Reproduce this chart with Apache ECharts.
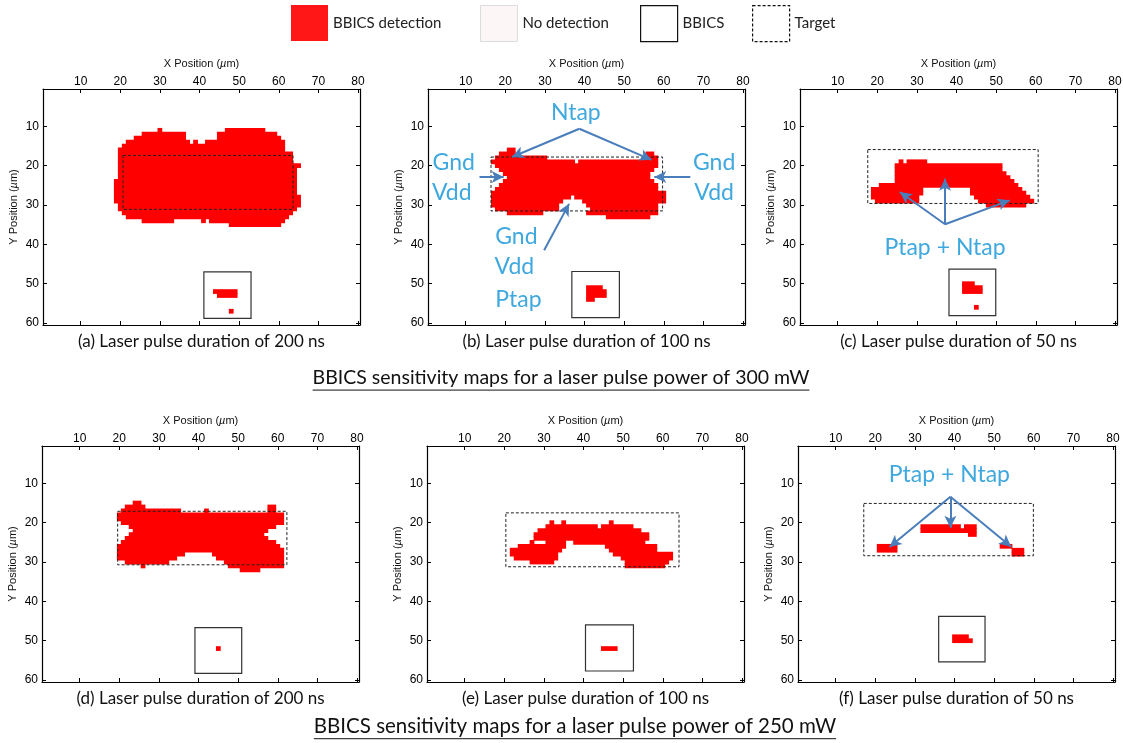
<!DOCTYPE html>
<html><head><meta charset="utf-8">
<script src="https://cdn.jsdelivr.net/npm/echarts@6/dist/echarts.min.js"></script>
<style>html,body{margin:0;padding:0;background:#fff}#c{width:1123px;height:743px}</style>
</head><body><div id="c"></div>
<script>
// ---------------- data ----------------
const xTicks = [10, 20, 30, 40, 50, 60, 70, 80];
const yTicks = [10, 20, 30, 40, 50, 60];
const captions = ['(a) Laser pulse duration of 200 ns', '(b) Laser pulse duration of 100 ns', '(c) Laser pulse duration of 50 ns',
                  '(d) Laser pulse duration of 200 ns', '(e) Laser pulse duration of 100 ns', '(f) Laser pulse duration of 50 ns'];
const sectionTitles = ['BBICS sensitivity maps for a laser pulse power of 300 mW', 'BBICS sensitivity maps for a laser pulse power of 250 mW'];
const legendNames = ['BBICS detection', 'No detection', 'BBICS', 'Target'];

// detection runs: [row y (µm), first x (µm), last x (µm)]
const detA = [[11,30,30],[11,47,56],[12,26,36],[12,45,59],[13,24,36],[13,45,60],[14,22,37],[14,39,39],[14,42,61],
  [15,21,61],[16,20,61],[17,20,63],[18,20,63],[19,20,63],[20,20,65],[21,20,64],[22,20,64],[23,20,64],
  [24,19,64],[25,19,64],[26,19,64],[27,19,64],[28,19,65],[29,19,65],[30,20,65],[31,20,64],[32,21,63],[33,22,62],
  [34,26,33],[34,41,41],[34,43,61],[35,48,60]];
const insetA = [[52,44,49],[53,45,49],[57,48,48]];
const detB = [[16,21,22],[17,19,22],[17,56,57],[18,18,30],[18,56,58],[19,17,37],[19,39,58],[20,18,58],[21,19,57],
  [22,20,56],[23,21,56],[24,20,57],[25,19,58],[26,18,58],[27,17,60],[28,17,36],[28,38,60],[29,17,34],[29,40,60],
  [30,17,33],[30,41,58],[31,18,33],[31,42,58],[32,21,29],[32,41,58],[33,46,56]];
const insetB = [[51,41,44],[52,41,45],[53,41,45],[54,41,42]];
const detC = [[19,26,26],[19,28,32],[20,25,51],[21,25,51],[22,25,52],[23,25,53],[24,25,54],[25,21,55],
  [26,19,31],[26,44,56],[27,19,31],[27,44,57],[28,19,30],[28,45,58],[29,20,30],[29,46,59],[30,48,57]];
const insetC = [[50,42,44],[51,42,46],[52,42,46],[56,45,45]];
const detD = [[15,24,25],[16,22,26],[16,58,59],[17,21,35],[17,42,42],[17,58,59],[18,20,61],[19,20,61],[20,21,61],
  [21,23,59],[22,24,57],[23,23,56],[24,22,57],[25,21,59],[26,20,60],[27,20,61],[28,20,36],[28,44,61],
  [29,20,34],[29,45,61],[30,22,32],[30,47,61],[31,26,26],[31,48,61],[32,51,55]];
const insetD = [[52,45,45]];
const detE = [[20,32,32],[20,35,35],[20,47,47],[21,31,43],[21,45,52],[22,29,54],[23,28,56],[24,28,56],
  [25,27,27],[25,31,35],[25,38,55],[26,24,35],[26,46,58],[27,22,34],[27,47,58],[28,22,33],[28,48,62],
  [29,23,33],[29,50,62],[30,27,32],[30,51,61],[31,51,60]];
const insetE = [[52,45,48]];
const detF = [[21,32,41],[21,43,45],[22,32,45],[23,44,45],[26,21,25],[26,52,54],[27,21,25],[27,55,57],[28,55,57]];
const insetF = [[49,40,43],[50,40,44]];

// boxes: [x1, x2, y1, y2] in µm
const targetBoxes = [[20.7,63.6,17.4,31.1],[16.4,59.7,17.8,31.5],[17.6,60.6,15.9,29.6],
                     [19.6,62.3,17.1,30.7],[20.4,64.1,17.5,31.2],[17.1,59.9,15.1,28.4]];
const bbicsBoxes = [[41.1,53.0,47.0,58.8],[36.8,48.8,46.9,58.6],[38.1,49.9,46.3,58.1],
                    [39.1,50.9,46.7,58.3],[40.5,52.6,46.0,57.7],[36.0,47.7,43.8,55.4]];

// annotations (data coordinates of their panel)
const notes = [
  {p:1, t:'Ntap', at:[37.8,6.5]},
  {p:1, t:'Gnd', at:[7.0,19.2]}, {p:1, t:'Vdd', at:[6.5,26.9]},
  {p:1, t:'Gnd', at:[72.7,19.2]}, {p:1, t:'Vdd', at:[72.7,26.9]},
  {p:1, t:'Gnd', at:[22.8,38.1]}, {p:1, t:'Vdd', at:[22.3,45.7]}, {p:1, t:'Ptap', at:[23.3,54.1]},
  {p:2, t:'Ptap + Ntap', at:[37.1,40.8]},
  {p:5, t:'Ptap + Ntap', at:[38.7,7.7]}
];
const arrows = [
  {p:1, from:[38.7,10.6], to:[21.7,17.8]}, {p:1, from:[38.7,10.6], to:[56.9,18.5]},
  {p:1, from:[13.5,22.9], to:[19.6,22.9]}, {p:1, from:[66.7,22.9], to:[57.6,22.9]},
  {p:1, from:[29.8,41.5], to:[36.1,29.7]},
  {p:2, from:[37.1,34.9], to:[25.7,26.7]}, {p:2, from:[37.1,34.9], to:[37.1,23.3]}, {p:2, from:[37.1,34.9], to:[53.4,28.8]},
  {p:5, from:[38.96,13.4], to:[23.6,26.2]}, {p:5, from:[38.96,13.4], to:[38.96,21.3]}, {p:5, from:[38.96,13.4], to:[54.3,26.1]}
];

const detections = [detA.concat(insetA), detB.concat(insetB), detC.concat(insetC),
                    detD.concat(insetD), detE.concat(insetE), detF.concat(insetF)];

// ---------------- layout ----------------
const GRID = [[43,89],[428,89],[800,89],[42,446],[427,446],[798,446]];
const GW = 317, GH = 236;
const RED = '#ff0000';
const BLUE_TXT = '#3ea8df';
const BLUE_ARR = '#4a7ebb';
const AX_FONT = 'Liberation Sans';
const TXT_FONT = 'Lato';
const LEGEND_LEFT = [291, 480, 640, 752];

const chart = echarts.init(document.getElementById('c'), null, {renderer: 'canvas'});

function renderRun(params, api) {
  const y = api.value(0), x1 = api.value(1), x2 = api.value(2);
  const a = api.coord([x1 - 0.5, y - 0.5]), b = api.coord([x2 + 0.5, y + 0.5]);
  const o = 0.4;
  return {type: 'rect', shape: {x: Math.min(a[0], b[0]) - o, y: Math.min(a[1], b[1]) - o,
    width: Math.abs(b[0] - a[0]) + 2 * o, height: Math.abs(b[1] - a[1]) + 2 * o},
    style: {fill: RED}};
}
function boxRender(dashed) {
  return function (params, api) {
    const a = api.coord([api.value(0), api.value(2)]), b = api.coord([api.value(1), api.value(3)]);
    return {type: 'rect', shape: {x: Math.min(a[0], b[0]), y: Math.min(a[1], b[1]),
      width: Math.abs(b[0] - a[0]), height: Math.abs(b[1] - a[1])},
      style: {fill: 'none', stroke: dashed ? '#222' : '#333', lineWidth: dashed ? 1 : 1.2, lineDash: dashed ? [3, 2] : null}};
  };
}

const grids = [], xAxes = [], yAxes = [], series = [];
const nameRich = {n: {fontSize: 11, fontFamily: AX_FONT, color: '#111'}, i: {fontSize: 11, fontFamily: AX_FONT, fontStyle: 'italic', color: '#111'}};
GRID.forEach(([l, t], i) => {
  grids.push({left: l, top: t, width: GW, height: GH, containLabel: false, outerBoundsMode: 'none'});
  const tick = {show: true, inside: true, length: 4, lineStyle: {color: '#000', width: 1}};
  const line = {show: true, onZero: false, lineStyle: {color: '#000', width: 1.2}};
  xAxes.push({type: 'value', gridIndex: i, position: 'top', min: 0.5, max: 80.5,
    axisLine: line, axisTick: Object.assign({customValues: xTicks}, tick),
    axisLabel: {customValues: xTicks, color: '#000', fontSize: 12, fontFamily: AX_FONT, margin: 1},
    splitLine: {show: false},
    name: '{n|X Position (}{i|µ}{n|m)}', nameLocation: 'middle', nameGap: 19.5, nameTextStyle: {rich: nameRich}});
  xAxes.push({type: 'value', gridIndex: i, position: 'bottom', min: 0.5, max: 80.5,
    axisLine: line, axisTick: Object.assign({customValues: xTicks}, tick),
    axisLabel: {show: false}, splitLine: {show: false}});
  yAxes.push({type: 'value', gridIndex: i, position: 'left', inverse: true, min: 0.5, max: 60.5,
    axisLine: line, axisTick: Object.assign({customValues: yTicks}, tick),
    axisLabel: {customValues: yTicks, color: '#000', fontSize: 12, fontFamily: AX_FONT, margin: 4},
    splitLine: {show: false},
    name: '{n|Y Position (}{i|µ}{n|m)}', nameLocation: 'middle', nameGap: 24, nameTextStyle: {rich: nameRich}});
  yAxes.push({type: 'value', gridIndex: i, position: 'right', inverse: true, min: 0.5, max: 60.5,
    axisLine: line, axisTick: Object.assign({customValues: yTicks}, tick),
    axisLabel: {show: false}, splitLine: {show: false}});

  series.push({type: 'custom', name: legendNames[0], xAxisIndex: 2 * i, yAxisIndex: 2 * i, data: detections[i],
    encode: {x: [1, 2], y: 0}, renderItem: renderRun, silent: true, z: 2, clip: true});
  series.push({type: 'custom', name: legendNames[3], xAxisIndex: 2 * i, yAxisIndex: 2 * i, data: [targetBoxes[i]],
    encode: {x: [0, 1], y: [2, 3]}, renderItem: boxRender(true), silent: true, z: 3});
  series.push({type: 'custom', name: legendNames[2], xAxisIndex: 2 * i, yAxisIndex: 2 * i, data: [bbicsBoxes[i]],
    encode: {x: [0, 1], y: [2, 3]}, renderItem: boxRender(false), silent: true, z: 3});
  const arr = arrows.filter(a => a.p === i);
  if (arr.length) {
    series.push({type: 'line', xAxisIndex: 2 * i, yAxisIndex: 2 * i, data: [], silent: true, z: 5,
      markLine: {silent: true, symbol: ['none', 'arrow'], symbolSize: [9, 12], animation: false,
        label: {show: false}, emphasis: {disabled: true},
        lineStyle: {color: BLUE_ARR, width: 2, type: 'solid'},
        data: arr.map(a => [{coord: a.from}, {coord: a.to}])}});
  }
});
series.push({type: 'custom', name: legendNames[1], xAxisIndex: 0, yAxisIndex: 0, data: [], renderItem: () => null});

const legendStyles = [
  {color: '#ff1717', borderWidth: 0},
  {color: '#fcf6f6', borderColor: '#dddddd', borderWidth: 1},
  {color: '#ffffff', borderColor: '#111', borderWidth: 1.2},
  {color: '#ffffff', borderColor: '#111', borderWidth: 1.2, borderType: [3, 2]}
];
const legends = legendNames.map((nm, k) => ({
  top: 5, left: LEGEND_LEFT[k], itemWidth: 37, itemHeight: 36, selectedMode: false, padding: 0,
  textStyle: {fontFamily: TXT_FONT, fontSize: 15, color: '#222'},
  data: [{name: nm, icon: 'rect', itemStyle: legendStyles[k]}]
}));

chart.setOption({
  animation: false,
  backgroundColor: '#fff',
  grid: grids, xAxis: xAxes, yAxis: yAxes, series: series,
  legend: legends
});

// ---------------- text graphics ----------------
const gfx = [];
captions.forEach((t, i) => {
  const [l, tp] = GRID[i];
  gfx.push({type: 'text', x: l + GW / 2, y: tp + GH + 17, silent: true,
    style: {text: t, fontFamily: TXT_FONT, fontSize: 17, fill: '#111', align: 'center', verticalAlign: 'middle'}});
});
const ctx = document.createElement('canvas').getContext('2d');
const titleDefs = [[561, 378, 19.5], [575, 726, 20.5]];
sectionTitles.forEach((t, i) => {
  const [cx, cy, fs] = titleDefs[i];
  ctx.font = fs + 'px ' + TXT_FONT;
  const w = ctx.measureText(t).width;
  gfx.push({type: 'text', x: cx, y: cy, silent: true,
    style: {text: t, fontFamily: TXT_FONT, fontSize: fs, fill: '#111', align: 'center', verticalAlign: 'middle'}});
  gfx.push({type: 'line', silent: true, shape: {x1: cx - w / 2, y1: cy + fs * 0.62, x2: cx + w / 2, y2: cy + fs * 0.62},
    style: {stroke: '#111', lineWidth: 1}});
});
notes.forEach(n => {
  const px = chart.convertToPixel({xAxisIndex: 2 * n.p, yAxisIndex: 2 * n.p}, n.at);
  gfx.push({type: 'text', x: px[0], y: px[1], silent: true, z: 10,
    style: {text: n.t, fontFamily: TXT_FONT, fontSize: 23, fill: BLUE_TXT, align: 'center', verticalAlign: 'middle'}});
});
chart.setOption({graphic: gfx});
</script>
</body></html>
